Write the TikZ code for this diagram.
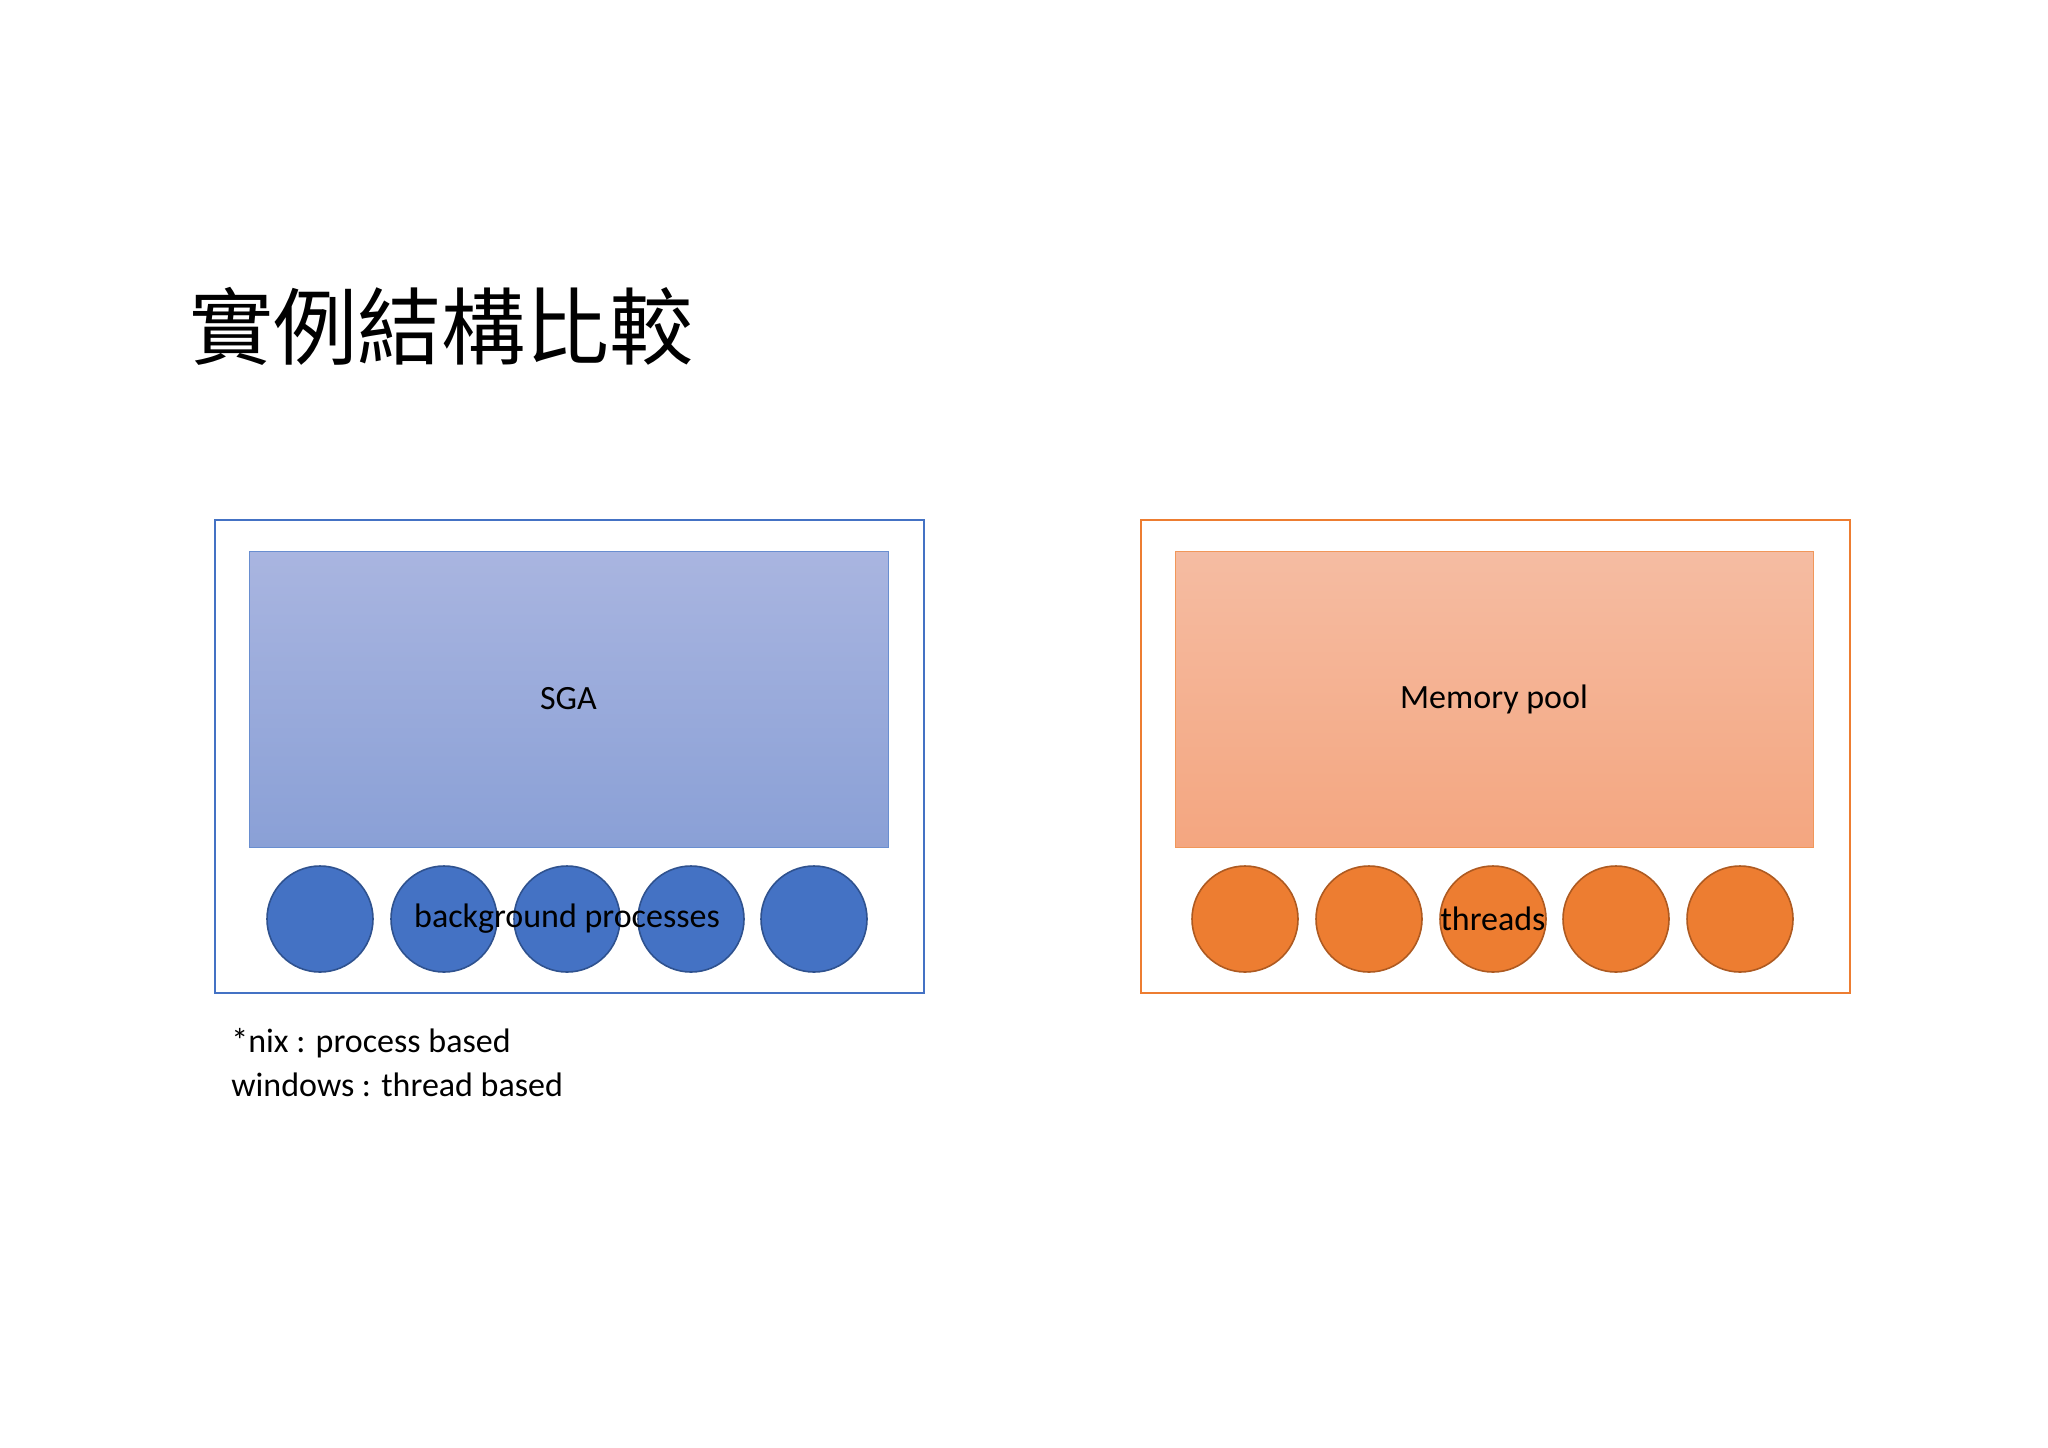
\documentclass[tikz,border=0pt]{standalone}
\usepackage{fontspec}
\setmainfont{Carlito}
\newfontfamily\cjk{Noto Sans CJK TC}
\definecolor{bl}{HTML}{4472C4}
\definecolor{bld}{HTML}{2F528F}
\definecolor{blt}{HTML}{A9B5E0}
\definecolor{blb}{HTML}{8AA0D6}
\definecolor{orr}{HTML}{ED7D31}
\definecolor{ord}{HTML}{AE5A21}
\definecolor{ort}{HTML}{F5BCA2}
\definecolor{orb}{HTML}{F4A680}
\begin{document}
\begin{tikzpicture}[x=0.5pt,y=-0.5pt,
  lbl/.style={font=\fontsize{17}{20}\selectfont},
  bcirc/.style={circle,minimum size=106\pgflinewidth,inner sep=0,fill=bl,draw=bld,line width=0.8pt},
  ocirc/.style={circle,inner sep=0,fill=orr,draw=ord,line width=0.8pt}]
\useasboundingbox (0,0) rectangle (2048,1447);
\node[anchor=west,font=\cjk\fontsize{42}{48}\selectfont] (title) at (182,326) {實例結構比較};
% left
\node[draw=bl,line width=1pt,minimum width=354.5pt,minimum height=236.5pt,inner sep=0] (lb) at (569.5,756.5) {};
\node[draw=bl!80,top color=blt,bottom color=blb,line width=0.5pt,minimum width=319.5pt,minimum height=148pt,inner sep=0] (sga) at (568.5,699) {};
\foreach \i/\x in {1/320,2/444,3/567,4/691,5/814}
  \node[circle,inner sep=0,minimum size=53pt,fill=bl,draw=bld,line width=0.8pt] (b\i) at (\x,919) {};
\node[lbl] (sgat) at (sga.center) {SGA};
\node[lbl] (bpt) at (b3.center) {background processes};
% right
\node[draw=orr,line width=1pt,minimum width=354.5pt,minimum height=236.5pt,inner sep=0] (rb) at (1495.5,756.5) {};
\node[draw=orr!80,top color=ort,bottom color=orb,line width=0.5pt,minimum width=319pt,minimum height=148pt,inner sep=0] (mp) at (1494,699) {};
\foreach \i/\x in {1/1245,2/1369,3/1493,4/1616,5/1740}
  \node[ocirc,minimum size=53pt] (o\i) at (\x,919) {};
\node[lbl] (mpt) at (mp.center) {Memory pool};
\node[lbl] (tht) at (o3.center) {threads};
% notes
\node[lbl,anchor=north west,align=left,inner sep=0] (notes) at (231,1028) {*nix : process based\\[2pt]windows : thread based};
\end{tikzpicture}
\end{document}
